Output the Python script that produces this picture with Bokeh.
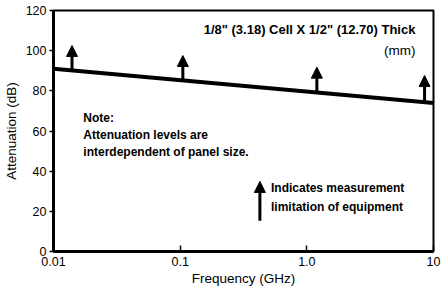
from bokeh.plotting import figure
from bokeh.models import (ColumnDataSource, Arrow, NormalHead, Label, FixedTicker,
                          Range1d)
from bokeh.embed import file_html
from bokeh.resources import INLINE

# ---- data ----
line_freq = [0.01, 10.0]          # GHz
line_atten = [91.0, 74.0]         # dB

arrow_freq = [0.014, 0.105, 1.2, 8.5]
arrow_base = [90.2, 85.2, 79.2, 74.4]
arrow_top = [102.6, 97.6, 91.8, 87.6]

legend_arrow_freq = [0.426]
legend_arrow_base = [15.3]
legend_arrow_top = [34.9]

x_ticks = [0.01, 0.1, 1.0, 10.0]
x_tick_labels = ["0.01", "0.1", "1.0", "10"]
y_ticks = [0, 20, 40, 60, 80, 100, 120]

FONT = "Liberation Sans"

p = figure(width=441, height=291, x_axis_type="log",
           x_range=Range1d(0.01, 10), y_range=Range1d(0, 120),
           output_backend="svg", toolbar_location=None,
           min_border_left=52, min_border_right=8, min_border_top=10,
           min_border_bottom=40)

p.xgrid.visible = False
p.ygrid.visible = False
p.outline_line_color = "black"
p.outline_line_width = 2
p.outline_line_alpha = 1.0

# x axis
p.xaxis.ticker = FixedTicker(ticks=x_ticks)
p.xaxis.major_label_overrides = {t: l for t, l in zip(x_ticks, x_tick_labels)}
p.xaxis.minor_tick_line_color = None
p.xaxis.major_tick_in = 6
p.xaxis.major_tick_out = 0
p.xaxis.major_tick_line_width = 1.5
p.xaxis.axis_line_width = 3
p.xaxis.axis_label = "Frequency (GHz)"
p.xaxis.major_label_standoff = 5
p.xaxis.axis_label_standoff = 2

# y axis
p.yaxis.ticker = FixedTicker(ticks=y_ticks)
p.yaxis.minor_tick_line_color = None
p.yaxis.major_tick_in = 0
p.yaxis.major_tick_out = 4
p.yaxis.major_tick_line_width = 1.5
p.yaxis.axis_line_width = 3
p.yaxis.axis_label = "Attenuation (dB)"
p.yaxis.major_label_standoff = 3
p.yaxis.axis_label_standoff = 4

for ax in (p.xaxis, p.yaxis):
    ax.axis_line_color = "black"
    ax.major_tick_line_color = "black"
    ax.major_label_text_font = FONT
    ax.major_label_text_font_size = "12.5px"
    ax.major_label_text_color = "black"
    ax.axis_label_text_font = FONT
    ax.axis_label_text_font_size = "13.5px"
    ax.axis_label_text_font_style = "normal"
    ax.axis_label_text_color = "black"

# main line
p.line(line_freq, line_atten, line_color="black", line_width=4)

# measurement-limit arrows
src = ColumnDataSource(dict(x=arrow_freq, y0=arrow_base, y1=arrow_top))
p.add_layout(Arrow(end=NormalHead(size=11, fill_color="black", line_color="black"),
                   x_start="x", y_start="y0", x_end="x", y_end="y1",
                   line_width=3, line_color="black", source=src))

lsrc = ColumnDataSource(dict(x=legend_arrow_freq, y0=legend_arrow_base,
                             y1=legend_arrow_top))
p.add_layout(Arrow(end=NormalHead(size=11, fill_color="black", line_color="black"),
                   x_start="x", y_start="y0", x_end="x", y_end="y1",
                   line_width=3, line_color="black", source=lsrc))

def lab(x, y, text, align="left", style="bold", size="12px"):
    p.add_layout(Label(x=x, y=y, text=text, text_align=align,
                       text_baseline="middle", text_font=FONT,
                       text_font_size=size, text_font_style=style,
                       text_color="black"))

lab(7.2, 110.5, '1/8" (3.18) Cell X 1/2" (12.70) Thick', align="right", size="13px")
lab(7.2, 100.0, "(mm)", align="right", style="normal", size="13.5px")
lab(0.0172, 66.7, "Note:")
lab(0.0172, 57.8, "Attenuation levels are")
lab(0.0172, 49.3, "interdependent of panel size.")
lab(0.521, 31.4, "Indicates measurement")
lab(0.521, 22.4, "limitation of equipment")

open("out.html", "w").write(file_html(p, INLINE))
